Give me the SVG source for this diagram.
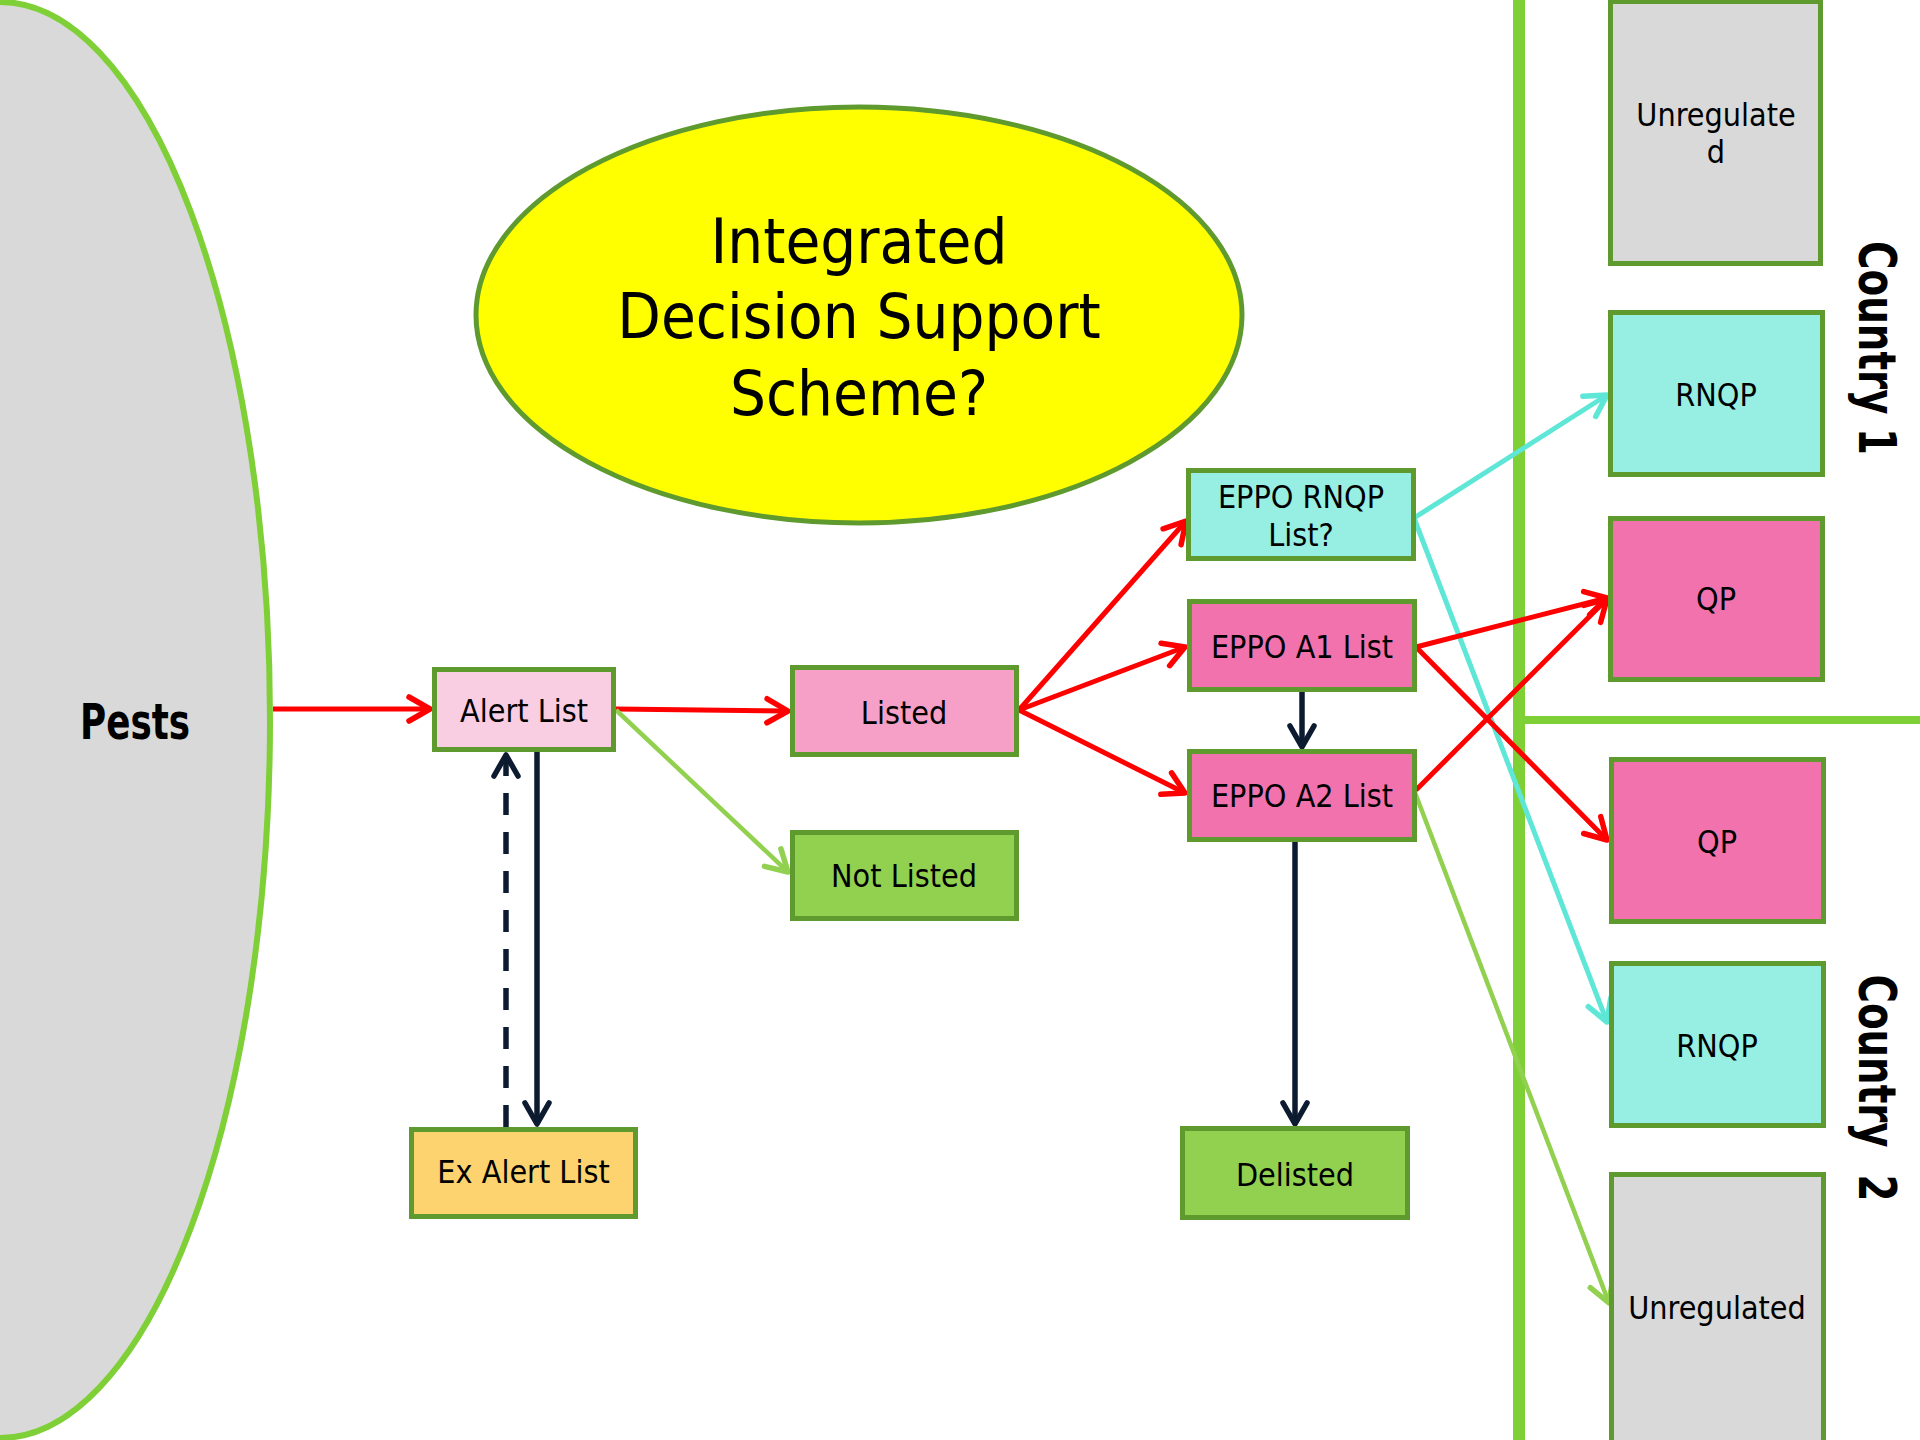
<svg xmlns="http://www.w3.org/2000/svg" width="1920" height="1440" viewBox="0 0 1920 1440">
<style>
.box{stroke:#5f9a2f;stroke-width:5}
.t{font-family:"DejaVu Sans Condensed","DejaVu Sans",sans-serif;font-size:32px;fill:#000;text-anchor:middle}
.title{font-family:"DejaVu Sans Condensed","DejaVu Sans",sans-serif;font-size:63px;fill:#000;text-anchor:middle}
.bold{font-family:"DejaVu Sans Condensed","DejaVu Sans",sans-serif;font-weight:bold;fill:#000;text-anchor:middle}
.red{stroke:#ff0000;stroke-width:5;fill:none}
.grn{stroke:#92d050;stroke-width:4.5;fill:none}
.cyn{stroke:#5ee6d6;stroke-width:5;fill:none}
.nav{stroke:#0c1b30;stroke-width:5.5;fill:none}
</style>
<defs>
<marker id="mRed" markerUnits="userSpaceOnUse" viewBox="-26 -16 30 32" refX="0" refY="0" markerWidth="30" markerHeight="32" orient="auto"><path d="M-21,-12 L0,0 L-21,12" fill="none" stroke="#ff0000" stroke-width="5.5" stroke-linecap="round" stroke-linejoin="round"/></marker>
<marker id="mGrn" markerUnits="userSpaceOnUse" viewBox="-26 -16 30 32" refX="0" refY="0" markerWidth="30" markerHeight="32" orient="auto"><path d="M-21,-12 L0,0 L-21,12" fill="none" stroke="#92d050" stroke-width="5.5" stroke-linecap="round" stroke-linejoin="round"/></marker>
<marker id="mCyn" markerUnits="userSpaceOnUse" viewBox="-26 -16 30 32" refX="0" refY="0" markerWidth="30" markerHeight="32" orient="auto"><path d="M-21,-12 L0,0 L-21,12" fill="none" stroke="#5ee6d6" stroke-width="5.5" stroke-linecap="round" stroke-linejoin="round"/></marker>
<marker id="mNav" markerUnits="userSpaceOnUse" viewBox="-26 -16 30 32" refX="0" refY="0" markerWidth="30" markerHeight="32" orient="auto"><path d="M-21,-12 L0,0 L-21,12" fill="none" stroke="#0c1b30" stroke-width="5.5" stroke-linecap="round" stroke-linejoin="round"/></marker>
</defs>
<rect width="1920" height="1440" fill="#ffffff"/>

<g id="dividers">
<line x1="1519" y1="0" x2="1519" y2="1440" stroke="#7fd037" stroke-width="12"/>
<line x1="1525" y1="720" x2="1920" y2="720" stroke="#7fd037" stroke-width="8"/>
</g>

<g id="pests">
<ellipse cx="0" cy="720" rx="270" ry="718" fill="#d9d9d9" stroke="#7fd037" stroke-width="6"/>
<text class="bold" x="135" y="739" font-size="50" textLength="110" lengthAdjust="spacingAndGlyphs">Pests</text>
</g>

<g id="idss">
<ellipse cx="859" cy="315" rx="383" ry="208" fill="#ffff00" stroke="#5f9a2f" stroke-width="5"/>
<text class="title" x="859" y="263">Integrated</text>
<text class="title" x="859" y="338">Decision Support</text>
<text class="title" x="859" y="415">Scheme?</text>
</g>

<g id="connectors">
<line class="red" x1="273" y1="709" x2="430" y2="709" marker-end="url(#mRed)"/>
<line class="red" x1="616" y1="709" x2="788" y2="711" marker-end="url(#mRed)"/>
<line class="grn" x1="616" y1="710" x2="788" y2="872" marker-end="url(#mGrn)"/>
<line class="nav" x1="537" y1="752" x2="537" y2="1124" marker-end="url(#mNav)"/>
<line class="nav" x1="506" y1="1127" x2="506" y2="755" stroke-dasharray="22 17" marker-end="url(#mNav)"/>
<line class="red" x1="1019" y1="710" x2="1186" y2="521" marker-end="url(#mRed)"/>
<line class="red" x1="1019" y1="710" x2="1185" y2="647" marker-end="url(#mRed)"/>
<line class="red" x1="1019" y1="710" x2="1185" y2="793" marker-end="url(#mRed)"/>
<line class="nav" x1="1302" y1="692" x2="1302" y2="747" marker-end="url(#mNav)"/>
<line class="nav" x1="1295" y1="842" x2="1295" y2="1124" marker-end="url(#mNav)"/>
<line class="cyn" x1="1414" y1="518" x2="1607" y2="395" marker-end="url(#mCyn)"/>
<line class="cyn" x1="1414" y1="518" x2="1607" y2="1022" marker-end="url(#mCyn)"/>
<line class="red" x1="1416" y1="647" x2="1607" y2="598" marker-end="url(#mRed)"/>
<line class="red" x1="1416" y1="647" x2="1607" y2="840" marker-end="url(#mRed)"/>
<line class="red" x1="1416" y1="790" x2="1607" y2="599" marker-end="url(#mRed)"/>
<line class="grn" x1="1414" y1="790" x2="1609" y2="1303" marker-end="url(#mGrn)"/>
</g>

<g id="alert-list"><rect class="box" x="434.5" y="669.5" width="179" height="80" fill="#f9cee2"/><text class="t" x="524" y="722">Alert List</text></g>
<g id="listed"><rect class="box" x="792.5" y="667.5" width="224" height="87" fill="#f6a0c8"/><text class="t" x="904" y="724">Listed</text></g>
<g id="not-listed"><rect class="box" x="792.5" y="832.5" width="224" height="86" fill="#92d050"/><text class="t" x="904" y="887">Not Listed</text></g>
<g id="ex-alert-list"><rect class="box" x="411.5" y="1129.5" width="224" height="87" fill="#fcd36e"/><text class="t" x="523.5" y="1183">Ex Alert List</text></g>
<g id="eppo-rnqp"><rect class="box" x="1188.5" y="470.5" width="225" height="88" fill="#96efe2"/><text class="t" x="1301" y="508">EPPO RNQP</text><text class="t" x="1301" y="546">List?</text></g>
<g id="eppo-a1"><rect class="box" x="1189.5" y="601.5" width="225" height="88" fill="#f272ae"/><text class="t" x="1302" y="658">EPPO A1 List</text></g>
<g id="eppo-a2"><rect class="box" x="1189.5" y="751.5" width="225" height="88" fill="#f272ae"/><text class="t" x="1302" y="807">EPPO A2 List</text></g>
<g id="delisted"><rect class="box" x="1182.5" y="1128.5" width="225" height="89" fill="#92d050"/><text class="t" x="1295" y="1186">Delisted</text></g>

<g id="c1-unregulated"><rect class="box" x="1610.5" y="1.5" width="210" height="262" fill="#d9d9d9"/><text class="t" x="1716" y="126">Unregulate</text><text class="t" x="1716" y="163">d</text></g>
<g id="c1-rnqp"><rect class="box" x="1610.5" y="312.5" width="212" height="162" fill="#96efe2"/><text class="t" x="1716" y="406">RNQP</text></g>
<g id="c1-qp"><rect class="box" x="1610.5" y="518.5" width="212" height="161" fill="#f272ae"/><text class="t" x="1716" y="610">QP</text></g>
<g id="c2-qp"><rect class="box" x="1611.5" y="759.5" width="212" height="162" fill="#f272ae"/><text class="t" x="1717" y="853">QP</text></g>
<g id="c2-rnqp"><rect class="box" x="1611.5" y="963.5" width="212" height="162" fill="#96efe2"/><text class="t" x="1717" y="1057">RNQP</text></g>
<g id="c2-unregulated"><rect class="box" x="1611.5" y="1174.5" width="212" height="300" fill="#d9d9d9"/><text class="t" x="1717" y="1319">Unregulated</text></g>

<g id="country-labels">
<text class="bold" font-size="52" transform="translate(1859,348) rotate(90)" textLength="214" lengthAdjust="spacingAndGlyphs">Country 1</text>
<text class="bold" font-size="52" transform="translate(1859,1088) rotate(90)" textLength="227" lengthAdjust="spacingAndGlyphs" xml:space="preserve">Country  2</text>
</g>
</svg>
